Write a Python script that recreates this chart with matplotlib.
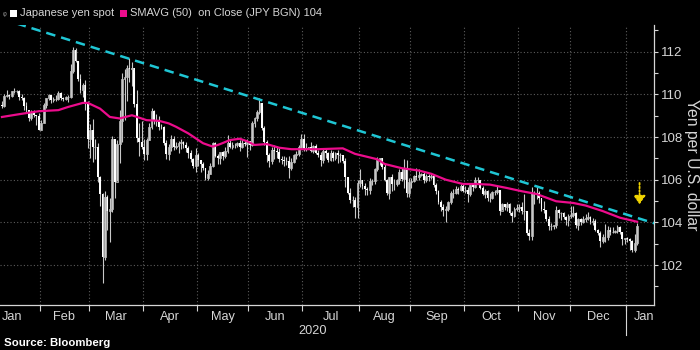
import numpy as np
import pandas as pd
import matplotlib
matplotlib.use("Agg")
import matplotlib.pyplot as plt
from matplotlib.transforms import blended_transform_factory
from matplotlib.patches import Rectangle

plt.rcParams["font.family"] = ["Liberation Sans", "DejaVu Sans"]

BG = "#000000"
FG = "#d6d6d6"
GRID = "#5c5c5c"
MAGENTA = "#ec0c8c"
CYAN = "#1fc6d4"
YELLOW = "#f0d400"

# USD/JPY daily candles, Jan 10 2020 .. Jan 7 2021 (weekdays)
start = "2020-01-10"
first_open = 109.52
close = [
    109.45, 109.94, 109.99, 109.90, 110.14, 110.14, 110.17, 109.86, 109.85, 109.47, 109.28, 108.88, 109.19, 109.03, 108.97, 108.35,  # Jan
    108.68, 109.50, 109.83, 109.98, 109.75, 109.76, 109.77, 110.08, 109.82, 109.77, 109.88, 109.88, 111.11, 112.08, 111.56, 110.73, 110.20, 110.45, 109.59, 107.89,  # Feb
    108.33, 107.52, 107.52, 106.12, 105.35, 102.37, 105.18, 104.52, 104.62, 107.92, 105.87, 107.67, 108.74, 110.70, 110.81, 111.24, 111.21, 111.22, 109.55, 107.94, 107.77, 107.54,  # Mar
    107.19, 107.87, 108.48, 109.21, 108.77, 108.80, 108.49, 108.47, 107.74, 107.20, 107.51, 107.92, 107.53, 107.59, 107.70, 107.76, 107.62, 107.49, 107.26, 106.99, 106.62, 107.17,  # Apr
    106.91, 106.72, 106.53, 106.08, 106.26, 106.65, 107.72, 107.13, 107.03, 107.28, 107.13, 107.33, 107.73, 107.54, 107.62, 107.61, 107.70, 107.53, 107.71, 107.67, 107.83,  # May
    107.62, 108.68, 108.90, 109.18, 109.59, 108.44, 107.77, 107.14, 106.89, 107.38, 107.33, 107.31, 106.96, 106.93, 106.89, 106.89, 106.54, 106.84, 107.16, 107.20, 107.55, 107.93,  # Jun
    107.46, 107.50, 107.51, 107.36, 107.56, 107.24, 107.18, 106.92, 107.34, 107.24, 106.94, 107.27, 107.00, 107.27, 107.18, 107.18, 106.86, 106.14, 105.38, 105.05, 105.07, 104.74, 105.83,  # Jul
    105.97, 105.70, 105.56, 105.53, 105.92, 105.93, 106.48, 106.91, 107.03, 106.60, 105.99, 105.40, 106.13, 105.81, 105.80, 105.97, 106.37, 106.05, 106.57, 105.37, 105.91,  # Aug
    105.96, 106.17, 106.15, 106.22, 106.27, 106.01, 106.18, 106.14, 106.16, 105.73, 105.45, 104.95, 104.72, 104.56, 104.65, 104.94, 105.39, 105.40, 105.58, 105.51, 105.69, 105.47,  # Sep
    105.53, 105.33, 105.73, 105.68, 106.00, 106.00, 105.61, 105.31, 105.47, 105.14, 105.12, 105.41, 105.43, 105.51, 104.55, 104.86, 104.70, 104.85, 104.42, 104.32, 104.61, 104.66,  # Oct
    104.73, 104.52, 104.52, 103.50, 103.37, 105.36, 105.31, 105.40, 105.13, 104.62, 104.56, 104.18, 103.83, 103.84, 103.87, 104.56, 104.46, 104.46, 104.26, 104.09, 104.30,  # Nov
    104.33, 104.43, 103.87, 104.16, 104.04, 104.16, 104.22, 104.26, 104.04, 104.05, 103.65, 103.50, 103.13, 103.33, 103.31, 103.66, 103.56, 103.57, 103.58, 103.79, 103.53, 103.21, 103.25,  # Dec
    103.24, 103.12, 102.71, 103.05, 103.81,  # Jan 2021
]
high = [
    109.69, 110.00, 110.22, 110.02, 110.18, 110.29, 110.20, 110.19, 110.00, 109.88, 109.63, 109.16, 109.26, 109.27, 109.04, 109.13,
    108.80, 109.58, 109.85, 110.02, 109.98, 109.86, 109.96, 110.14, 110.10, 109.87, 109.92, 109.95, 111.43, 112.23, 112.18, 111.57, 110.95, 110.51, 110.66, 109.69,
    108.60, 108.86, 107.93, 107.71, 106.19, 105.37, 105.45, 105.27, 105.16, 108.03, 107.73, 107.84, 109.25, 111.02, 111.18, 111.38, 111.71, 111.51, 111.03, 110.20, 108.65, 108.73,
    107.91, 107.95, 108.67, 109.38, 109.27, 109.09, 109.00, 108.62, 108.53, 107.88, 107.67, 108.09, 108.07, 107.77, 107.83, 107.93, 107.83, 107.75, 107.56, 107.38, 107.00, 107.48,
    107.26, 106.93, 106.81, 106.56, 106.44, 106.76, 107.77, 107.78, 107.19, 107.29, 107.35, 107.54, 108.09, 107.89, 107.77, 107.71, 107.77, 107.86, 107.91, 107.88, 107.91,
    107.78, 108.75, 108.96, 109.25, 109.85, 109.46, 108.51, 107.86, 107.24, 107.55, 107.64, 107.59, 107.48, 107.11, 107.09, 107.07, 107.11, 107.00, 107.22, 107.33, 107.63, 108.15,
    108.16, 107.72, 107.55, 107.79, 107.61, 107.68, 107.38, 107.32, 107.44, 107.42, 107.29, 107.38, 107.33, 107.30, 107.41, 107.26, 107.18, 107.00, 106.11, 105.59, 105.26, 105.17, 105.97,
    106.48, 106.00, 105.86, 105.67, 106.07, 106.04, 106.54, 107.05, 107.04, 107.03, 106.72, 106.03, 106.15, 106.29, 106.05, 106.04, 106.50, 106.53, 106.95, 106.94, 106.06,
    106.06, 106.24, 106.55, 106.51, 106.33, 106.38, 106.29, 106.28, 106.25, 106.21, 105.83, 105.53, 105.03, 104.86, 104.77, 104.98, 105.48, 105.55, 105.70, 105.68, 105.80, 105.80,
    105.70, 105.68, 105.78, 105.80, 106.11, 106.11, 106.01, 105.69, 105.56, 105.53, 105.39, 105.47, 105.54, 105.75, 105.54, 104.91, 104.86, 104.95, 104.89, 104.52, 104.71, 104.88,
    104.86, 104.96, 105.35, 104.52, 103.67, 105.65, 105.48, 105.68, 105.47, 105.16, 104.99, 104.59, 104.31, 103.97, 103.89, 104.76, 104.64, 104.50, 104.48, 104.31, 104.38,
    104.78, 104.75, 104.47, 104.19, 104.20, 104.29, 104.39, 104.51, 104.32, 104.21, 104.14, 103.71, 103.58, 103.45, 103.91, 103.85, 103.79, 103.79, 103.66, 103.87, 103.81, 103.56, 103.28,
    103.30, 103.28, 103.19, 103.44, 103.95,
]
low = [
    109.38, 109.42, 109.86, 109.80, 109.87, 110.05, 110.07, 109.75, 109.72, 109.27, 109.19, 108.73, 108.80, 108.92, 108.58, 108.31,
    108.31, 108.67, 109.38, 109.72, 109.61, 109.62, 109.71, 109.75, 109.72, 109.71, 109.75, 109.65, 109.83, 111.01, 111.50, 110.64, 110.04, 109.87, 109.28, 107.50,
    107.00, 106.84, 106.97, 105.90, 104.78, 101.18, 102.22, 103.64, 103.08, 104.49, 105.15, 105.92, 106.76, 107.77, 108.82, 109.68, 110.60, 110.38, 109.39, 107.76, 107.13, 107.44,
    106.92, 106.93, 107.85, 108.37, 108.60, 108.50, 108.35, 108.36, 107.63, 106.99, 106.93, 107.35, 107.40, 107.43, 107.25, 107.44, 107.48, 107.30, 107.01, 106.85, 106.56, 106.35,
    106.62, 106.36, 106.47, 105.99, 105.99, 106.25, 106.61, 107.07, 106.72, 106.75, 106.92, 107.03, 107.26, 107.50, 107.43, 107.48, 107.54, 107.34, 107.47, 107.56, 107.08,
    107.37, 107.60, 108.46, 108.76, 109.09, 108.35, 107.61, 106.85, 106.58, 106.75, 106.96, 107.00, 106.82, 106.73, 106.66, 106.68, 106.07, 106.45, 106.77, 106.97, 107.10, 107.44,
    107.36, 107.35, 107.43, 107.29, 107.25, 107.21, 107.05, 106.64, 106.80, 107.03, 106.83, 106.87, 106.86, 106.92, 106.77, 106.84, 106.77, 105.68, 105.33, 104.93, 104.73, 104.19, 104.20,
    105.66, 105.57, 105.29, 105.30, 105.35, 105.75, 105.79, 106.40, 106.70, 106.49, 105.92, 105.28, 105.10, 105.45, 105.53, 105.69, 105.81, 105.95, 105.60, 105.21, 105.19,
    105.59, 105.87, 105.98, 105.97, 106.16, 105.83, 105.88, 105.93, 106.02, 105.67, 105.34, 104.85, 104.52, 104.29, 104.00, 104.54, 104.86, 105.12, 105.32, 105.35, 105.47, 105.43,
    105.37, 104.94, 105.24, 105.46, 105.59, 105.86, 105.58, 105.28, 105.14, 105.02, 104.96, 105.09, 105.27, 105.32, 104.34, 104.60, 104.58, 104.55, 104.35, 104.03, 104.26, 104.54,
    104.51, 104.39, 104.10, 103.43, 103.19, 103.18, 104.85, 105.10, 104.92, 104.55, 104.46, 104.08, 103.65, 103.66, 103.71, 103.74, 104.21, 104.13, 104.17, 103.89, 103.83,
    104.20, 104.26, 103.74, 103.65, 103.87, 103.96, 104.04, 104.10, 103.92, 103.88, 103.62, 103.41, 102.87, 103.03, 103.09, 103.16, 103.43, 103.52, 103.50, 103.50, 103.45, 102.96, 102.99,
    103.08, 102.72, 102.60, 102.59, 102.96,
]

# 50-day moving average
ma_dates = ["2020-01-10", "2020-01-21", "2020-01-31", "2020-02-12", "2020-02-18", "2020-02-26",
            "2020-02-28", "2020-03-06", "2020-03-12", "2020-03-18", "2020-03-25", "2020-04-02",
            "2020-04-09", "2020-04-15", "2020-04-20", "2020-04-27", "2020-05-05", "2020-05-11",
            "2020-05-14", "2020-05-20", "2020-05-26", "2020-05-29", "2020-06-03", "2020-06-10",
            "2020-06-17", "2020-06-24", "2020-07-02", "2020-07-09", "2020-07-23", "2020-07-30",
            "2020-08-12", "2020-08-17", "2020-08-26", "2020-09-04", "2020-09-11", "2020-09-21",
            "2020-09-30", "2020-10-07", "2020-10-15", "2020-10-26", "2020-11-03", "2020-11-11",
            "2020-11-23", "2020-12-02", "2020-12-09", "2020-12-18", "2020-12-29", "2021-01-07"]
ma_vals = [108.94, 109.07, 109.21, 109.26, 109.41, 109.60, 109.60, 109.33, 108.94, 108.87,
           109.02, 108.79, 108.76, 108.64, 108.48, 108.17, 107.71, 107.55, 107.67, 107.86,
           107.92, 107.80, 107.63, 107.67, 107.50, 107.43, 107.43, 107.43, 107.47, 107.21,
           106.96, 106.74, 106.54, 106.43, 106.28, 106.00, 105.80, 105.80, 105.77, 105.61,
           105.46, 105.33, 104.99, 104.91, 104.79, 104.53, 104.22, 104.03]

# resistance trend line
trend_dates = ["2020-01-20", "2021-01-18"]
trend_vals = [113.32, 103.96]

# yellow arrow
arrow_date = "2021-01-08"
arrow_from, arrow_to = 105.85, 104.85

month_names = ["Jan", "Feb", "Mar", "Apr", "May", "Jun", "Jul", "Aug", "Sep", "Oct", "Nov", "Dec", "Jan"]
yticks = [102, 104, 106, 108, 110, 112]


def pos(d):
    # weekday position relative to the first candle
    return np.busday_count(start, np.array(d, dtype="datetime64[D]"))


c = np.array(close)
h = np.array(high)
l = np.array(low)
o = np.r_[first_open, c[:-1]]
x = np.arange(len(c))
up = c >= o

fig = plt.figure(figsize=(7, 3.5), dpi=100, facecolor=BG)
ax = fig.add_axes([0.0, 0.1286, 0.9343, 0.8])
ax.set_facecolor(BG)

xmin, xmax = -0.8, 265.9
ax.set_xlim(xmin, xmax)
ax.set_ylim(100.13, 113.25)

# month boundaries
month_starts = pd.date_range("2020-01-01", "2021-02-01", freq="MS").strftime("%Y-%m-%d")
bounds = pos(list(month_starts)) - 0.5
mids = (bounds[:-1] + bounds[1:]) / 2

ax.set_xticks(bounds[1:-1])
ax.set_xticklabels([])
ax.tick_params(axis="x", which="major", length=4, color=FG, width=0.8)
ax.grid(True, axis="x", which="major", color=GRID, ls=(0, (1, 2)), lw=0.8)
ax.set_yticks(yticks)
ax.set_yticks(np.arange(101, 114, 2), minor=True)
ax.grid(True, axis="y", which="major", color=GRID, ls=(0, (1, 2)), lw=0.8)
ax.set_axisbelow(True)

ax.yaxis.tick_right()
ax.tick_params(axis="y", which="major", length=3, width=0.8, color=FG, labelcolor=FG,
               labelsize=9.5, pad=2)
ax.tick_params(axis="y", which="minor", length=3, width=0.8, color=FG)

for s in ["left", "top"]:
    ax.spines[s].set_visible(False)
for s in ["right", "bottom"]:
    ax.spines[s].set_color(FG)
    ax.spines[s].set_linewidth(0.9)

trans = blended_transform_factory(ax.transData, ax.transAxes)
for i, (m, name) in enumerate(zip(mids, month_names)):
    if i == len(month_names) - 1:
        ax.text(xmax, -0.02, name, transform=trans, ha="right", va="top", color=FG, fontsize=9.2)
    else:
        ax.text(m, -0.02, name, transform=trans, ha="center", va="top", color=FG, fontsize=9.2)
ax.text((xmin + bounds[-2]) / 2, -0.07, "2020", transform=trans, ha="center", va="top",
        color=FG, fontsize=9.2)
ax.plot([bounds[-2], bounds[-2]], [0, -0.107], transform=trans, color=FG, lw=0.8, clip_on=False)

# candles
ax.vlines(x, l, h, color="#c8c8c8", lw=0.8, zorder=3)
ax.bar(x[~up], (o - c)[~up], bottom=c[~up], width=0.75, color="white", lw=0, zorder=4)
ax.bar(x[up], (c - o)[up], bottom=o[up], width=0.75, facecolor="none",
       edgecolor="#bdbdbd", lw=0.6, zorder=4)

# moving average
ax.plot(pos(ma_dates), ma_vals, color=MAGENTA, lw=1.6, zorder=5)

# trend line
ax.plot(pos(trend_dates), trend_vals, color=CYAN, lw=1.8, ls=(0, (3.8, 2.4)), zorder=6)

# arrow
ax_x = pos(arrow_date)
ax.annotate("", xy=(ax_x, arrow_to), xytext=(ax_x, arrow_from),
            arrowprops=dict(arrowstyle="-|>,head_width=0.35,head_length=0.5", color=YELLOW,
                            lw=1.3, ls=(0, (1, 1)), shrinkA=0, shrinkB=0), zorder=7)

# legend
fig.text(3 / 700, 1 - 13.5 / 350, "ᵩ", color="#9a9a9a", fontsize=6, va="center", ha="left")
fig.patches.append(Rectangle((10 / 700, 1 - 17 / 350), 7 / 700, 7 / 350, transform=fig.transFigure,
                             facecolor="white", edgecolor="none"))
fig.text(20 / 700, 1 - 13.5 / 350, "Japanese yen spot", color=FG, fontsize=8.0, va="center", ha="left")
fig.patches.append(Rectangle((120 / 700, 1 - 17 / 350), 7 / 700, 7 / 350, transform=fig.transFigure,
                             facecolor=MAGENTA, edgecolor="none"))
fig.text(130 / 700, 1 - 13.5 / 350, "SMAVG (50)  on Close (JPY BGN) 104", color=FG, fontsize=8.0,
         va="center", ha="left")

fig.text(0.988, 0.53, "Yen per U.S. dollar", rotation=270, color=FG, fontsize=11.3,
         ha="center", va="center")
fig.text(4 / 700, 1 - 343 / 350, "Source: Bloomberg", color="white", fontsize=8.2,
         fontweight="bold", ha="left", va="center")

fig.savefig("out.png", dpi=100, facecolor=BG)
